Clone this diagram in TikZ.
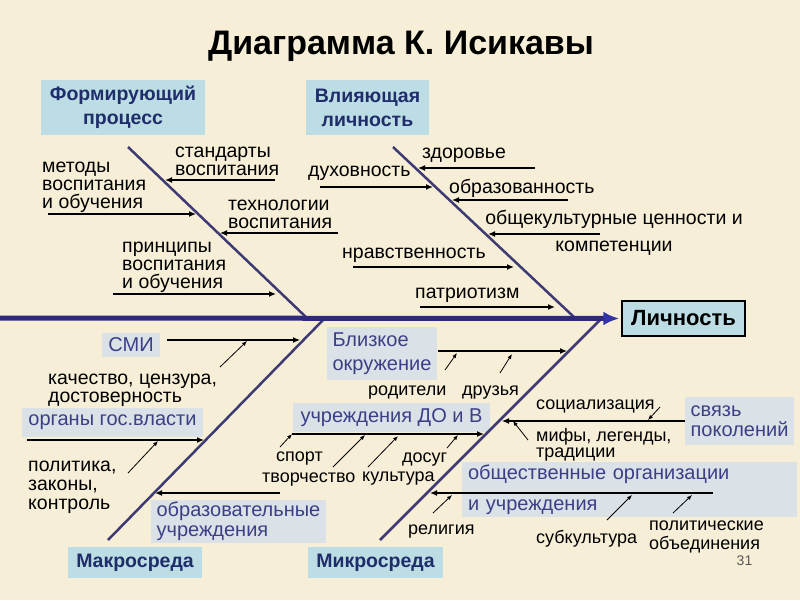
\documentclass[tikz,border=0pt]{standalone}
\usepackage{fontspec}
\setmainfont{Liberation Sans}
\usetikzlibrary{arrows.meta,positioning,calc}
\definecolor{Parchment}{HTML}{F6EED6}
\definecolor{CatBlue}{HTML}{BCDDE4}
\definecolor{TagGrey}{HTML}{DAE2E7}
\definecolor{DeepBlue}{HTML}{1F2D6B}
\definecolor{Slate}{HTML}{3B3F86}
\definecolor{SpineBlue}{HTML}{2D2A7B}
\definecolor{TipBlue}{HTML}{3333A8}
\definecolor{BoneInk}{HTML}{3E3A73}
\newcommand\titlefont{\fontsize{34}{38}\bfseries\selectfont}
\newcommand\catfont{\fontsize{19.5}{24}\bfseries\selectfont}
\newcommand\goalfont{\fontsize{22}{24}\bfseries\selectfont}
\newcommand\lblfont{\fontsize{19.5}{18}\selectfont}
\newcommand\minorfont{\fontsize{18}{18}\selectfont}
\newcommand\tagfont{\fontsize{20}{20}\selectfont}
\tikzset{catbox/.style={rectangle,fill=CatBlue,text=DeepBlue,font=\catfont,align=center,inner sep=0pt},goalbox/.style={rectangle,draw=black,line width=1.5pt,fill=CatBlue,text=black,font=\goalfont,inner sep=0pt},tagbox/.style={rectangle,fill=TagGrey,text=Slate,font=\tagfont,align=left,inner xsep=6pt,inner ysep=0pt},lbl/.style={anchor=west,align=left,inner sep=0pt,font=\lblfont,yshift=-3.5pt},minor/.style={anchor=west,align=left,inner sep=0pt,font=\minorfont,yshift=-3pt},bone/.style={draw=BoneInk,line width=2.5pt},spine/.style={draw=SpineBlue,line width=5pt,-{Latex[length=16pt,width=14pt,color=TipBlue]}},cause/.style={draw=black,line width=2pt,-{Latex[length=7pt,width=6pt]}},thincause/.style={draw=black,line width=1.2pt,-{Latex[length=7pt,width=6pt]}},hint/.style={draw=black,line width=0.8pt,-{Latex[length=5pt,width=4pt]}}}

\begin{document}
\begin{tikzpicture}[x=1pt,y=-1pt]
\fill[Parchment] (0,0) rectangle (800,600);
\useasboundingbox (0,0) rectangle (800,600);
\node[font=\titlefont] (title) at (401,46) {Диаграмма К. Исикавы};
% categories and effect
\node[catbox,minimum width=164pt,minimum height=55pt] (form) at (123,107.5) {Формирующий\\процесс};
\node[catbox,minimum width=123pt,minimum height=55pt] (infl) at (367.5,107.5) {Влияющая\\личность};
\node[catbox,minimum width=134pt,minimum height=31pt] (macro) at (135,562.5) {Макросреда};
\node[catbox,minimum width=135pt,minimum height=31pt] (micro) at (375.5,562.5) {Микросреда};
\node[goalbox,minimum width=123pt,minimum height=35pt] (goal) at (683.5,318.5) {Личность};
% grey tags
\node[tagbox,minimum width=58pt,minimum height=24pt] (tSMI) at (131,345) {СМИ};
\node[tagbox,minimum width=181pt,minimum height=29pt] (tOrg) at (112.5,422.5) {органы гос.власти};
\node[tagbox,minimum width=173pt,minimum height=43pt] (tEdu) at (238.5,521.5) {образовательные\\учреждения};
\node[tagbox,font=\fontsize{20}{24}\selectfont,minimum width=110pt,minimum height=53pt] (tNear) at (382,353.5) {Близкое\\окружение};
\node[tagbox,minimum width=197pt,minimum height=29pt] (tInst) at (391.5,417.5) {учреждения ДО и В};
\node[tagbox,minimum width=105pt,minimum height=48pt] (tGen) at (739.5,421) {связь\\поколений};
\node[tagbox,text width=323pt,minimum height=55pt] (tPub) at (629.5,489.5) {общественные организации\\[11pt]и учреждения};
% bones
\coordinate (b1s) at (128,147); \coordinate (b1e) at (307,318);
\coordinate (b2s) at (393,147); \coordinate (b2e) at (575,318);
\coordinate (b3s) at (108,540); \coordinate (b3e) at (325,318);
\coordinate (b4s) at (380,540); \coordinate (b4e) at (602,318);
\draw[bone] (b1s) -- (b1e);
\draw[bone] (b2s) -- (b2e);
\draw[bone] (b3s) -- (b3e);
\draw[bone] (b4s) -- (b4e);
\coordinate (spine0) at (0,318);
\draw[spine,shorten >=2pt] (spine0) -- (goal.west);
% causes on the bones
\foreach \n/\xa/\xb/\y in {st/275/165/180,met/48/196/214,tech/338/220/233,pr/113/276/294,zd/535/418/168,dux/320/433/187,obr/568/452/200,obsh/600/488/234,nr/353/514/267,pat/420/555/307,near/438/567/351}{
  \coordinate (\n-a) at (\xa,\y); \coordinate (\n-b) at (\xb,\y);
  \draw[cause] (\n-a) -- (\n-b);
}
\foreach \n/\xa/\xb/\y/\w in {smi/167/300/340/1.2,org/27/204/440/1.2,edu/280/155/493/1.5,inst/292/484/434/2.5,gen/685/502/421/1.2,pub/713/430/493/1.5}{
  \coordinate (\n-a) at (\xa,\y); \coordinate (\n-b) at (\xb,\y);
  \draw[thincause,line width=\w pt] (\n-a) -- (\n-b);
}
% sub-causes
\foreach \n/\xa/\ya/\xb/\yb in {q/220/367/247/341,pol/128/473/158/441,par/445/370/457/353,fr/500/373/512/354,sp/280/447/292/434,tv/333/467/365/435,ku/368/467/398/436,do/447/448/458/435,so/660/407/648/420,mi/528/440/513/421,re/433/513/452/495,sk/607/520/632/495,po/673/513/692/495}{
  \coordinate (\n-a) at (\xa,\ya); \coordinate (\n-b) at (\xb,\yb);
  \draw[hint] (\n-a) -- (\n-b);
}
% labels
\node[lbl] (lMet) at (42,184) {методы\\воспитания\\и обучения};
\node[lbl] (lSt) at (175,157.5) {стандарты\\воспитания};
\node[lbl] (lTech) at (228,210.5) {технологии\\воспитания};
\node[lbl] (lPr) at (122,264) {принципы\\воспитания\\и обучения};
\node[lbl] (lZd) at (422,152) {здоровье};
\node[lbl] (lDux) at (308,170) {духовность};
\node[lbl] (lObr) at (449,185) {образованность};
\node[lbl,anchor=center,align=center] (lObsh) at (614,229.5) {общекультурные ценности и\\[9pt]компетенции};
\node[lbl] (lNr) at (342,252) {нравственность};
\node[lbl] (lPat) at (415,292) {патриотизм};
\node[lbl] (lQ) at (48,386.5) {качество, цензура,\\достоверность};
\node[lbl,font=\fontsize{19.5}{19}\selectfont] (lPol) at (28,484) {политика,\\законы,\\контроль};
\node[minor] (lPar) at (368,390) {родители};
\node[minor] (lFr) at (462,390) {друзья};
\node[minor] (lSp) at (276,456) {спорт};
\node[minor] (lTv) at (262,477) {творчество};
\node[minor] (lDo) at (402,457) {досуг};
\node[minor] (lKu) at (362,476) {культура};
\node[minor] (lRe) at (408,529) {религия};
\node[minor] (lSk) at (536,536) {субкультура};
\node[minor,font=\fontsize{18}{19}\selectfont] (lPo) at (649,533.5) {политические\\объединения};
\node[minor] (lSo) at (536,403) {социализация};
\node[minor,font=\fontsize{18}{16.5}\selectfont] (lMi) at (536,442) {мифы, легенды,\\традиции};
\node[font=\fontsize{14}{16}\selectfont,text=black!65] (page) at (744.5,561) {31};
\end{tikzpicture}
\end{document}
